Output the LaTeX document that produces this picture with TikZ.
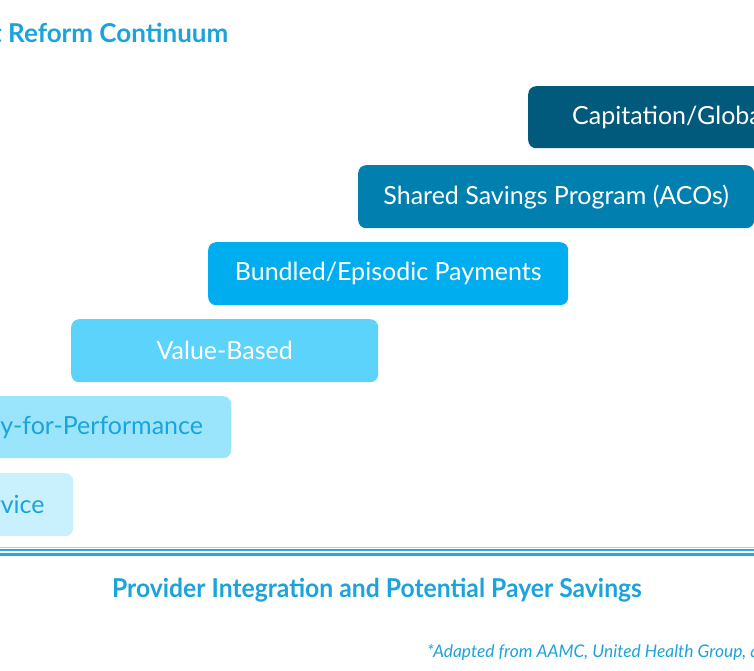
\documentclass[tikz,border=0pt]{standalone}
\usepackage{fontspec}
\setmainfont{Lato}
\definecolor{cap}{HTML}{015A7B}
\definecolor{shr}{HTML}{0180B0}
\definecolor{bnd}{HTML}{00AEEF}
\definecolor{val}{HTML}{5BD3FA}
\definecolor{pay}{HTML}{9AE5FC}
\definecolor{fee}{HTML}{C9F1FD}
\definecolor{tblue}{HTML}{1BA3DB}
\definecolor{lineA}{HTML}{2AA8D8}
\definecolor{lineL}{HTML}{8FE0F6}
\tikzset{
  stepbox/.style={rounded corners=8pt, inner sep=0pt, font=\fontsize{25}{29}\selectfont, anchor=north west},
}
\begin{document}
\begin{tikzpicture}[x=1pt,y=-1pt]
\useasboundingbox (0,0) rectangle (754,670);
\clip (0,0) rectangle (754,670);
% boxes
\node[stepbox, fill=cap, minimum width=320, minimum height=62] (capbox) at (528,86) {};
\node[anchor=west, inner sep=0pt, text=white, font=\fontsize{25}{29}\selectfont] (captext) at ([xshift=44pt]capbox.west) {Capitation/Global Payments};
\node[stepbox, fill=shr, minimum width=396, minimum height=63, text=white] (shrbox) at (358,165) {Shared Savings Program (ACOs)};
\node[stepbox, fill=bnd, minimum width=360, minimum height=63, text=white] (bndbox) at (208,242) {Bundled/Episodic Payments};
\node[stepbox, fill=val, minimum width=307, minimum height=63, text=white] (valbox) at (71,319) {Value-Based};
\node[stepbox, fill=pay, minimum width=286, minimum height=62, text=tblue] (paybox) at (-55,396) {Pay-for-Performance};
\node[stepbox, fill=fee, minimum width=226, minimum height=63, text=tblue] (feebox) at (-153,473) {Fee-for-Service};
% title
\node[anchor=base west, text=tblue, font=\bfseries\fontsize{26}{30}\selectfont, inner sep=0pt] (title) at (8,42) {\llap{Payment\ }Reform Continuum};
% axis lines
\coordinate (la) at (0,547.8);
\coordinate (lb) at (754,547.8);
\draw[lineL, line width=1.2pt] (la) -- (lb);
\draw[lineA, line width=2pt] ([yshift=-2.2pt]la) -- ([yshift=-2.2pt]lb);
\draw[lineA, line width=3pt] ([yshift=-6.4pt]la) -- ([yshift=-6.4pt]lb);
% bottom text
\node[anchor=base, text=tblue, font=\bfseries\fontsize{26}{30}\selectfont, inner sep=0pt, xscale=0.95] (axislabel) at (377,597) {Provider Integration and Potential Payer Savings};
\node[anchor=base west, text=tblue, font=\itshape\fontsize{17.4}{21}\selectfont, inner sep=0pt] (note) at (427,657) {*Adapted from AAMC, United Health Group, and others};
\end{tikzpicture}
\end{document}
